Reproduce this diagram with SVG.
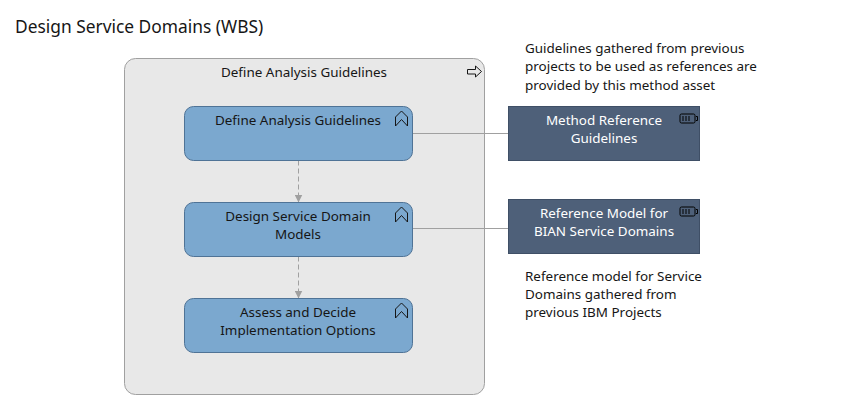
<svg xmlns="http://www.w3.org/2000/svg" width="855" height="405" viewBox="0 0 855 405">
<style>
text{font-family:"Noto Sans","Liberation Sans",sans-serif;font-size:13.45px;fill:#161616}
.m{text-anchor:middle}
.container{fill:#e8e8e8;stroke:#a0a0a0;stroke-width:1}
.proc{fill:#7ba8cf;stroke:#4f7396;stroke-width:1}
.asset{fill:#4e6079;stroke:#3f4f66;stroke-width:1}
.w{fill:#fff}
.ic{fill:none;stroke:#161616;stroke-width:1}
.lc{fill:none;stroke:#a0a0a0;stroke-width:1}
.dash{stroke-dasharray:5 3}
</style>
<defs>
<marker id="ah" markerUnits="userSpaceOnUse" markerWidth="9" markerHeight="8" refX="8" refY="4" orient="auto"><path d="M0 0L8 4L0 8Z" fill="#a0a0a0"/></marker>
<g id="chev"><path class="ic" d="M-6 -2L0 -8L6 -2V7L0 0.500L-6 7Z"/></g>
<g id="batt"><rect x="-8.500" y="-4.500" width="15" height="9" rx="1.500" fill="none" stroke="#000" stroke-width="1"/><path d="M-5.500 -2.500V2.500M-2.500 -2.500V2.500M0.500 -2.500V2.500" stroke="#000" stroke-width="1" fill="none"/><path d="M7.500 -2H9V2H7.500" stroke="#000" stroke-width="1" fill="none"/></g>
</defs>
<text x="15" y="33" style="font-size:17.36px">Design Service Domains (WBS)</text>
<g id="container"><rect class="container" x="124.500" y="58.500" width="360" height="336" rx="11"/>
<text class="m" x="304" y="77">Define Analysis Guidelines</text>
<path class="ic" d="M467.500 69.500H475.500V66L481.500 71.500L475.500 77V74H467.500Z"/></g>
<g id="connectors">
<path class="lc" d="M412.500 133.500H508.500M412.500 228.500H508.500"/>
<path class="lc dash" marker-end="url(#ah)" d="M298.500 160.500V202.500"/>
<path class="lc dash" marker-end="url(#ah)" d="M298.500 256.500V298.500"/>
</g>
<g id="p1"><rect class="proc" x="184.500" y="106.500" width="228" height="54" rx="9"/><text class="m" x="298" y="125">Define Analysis Guidelines</text><use href="#chev" x="401.500" y="119"/></g>
<g id="p2"><rect class="proc" x="184.500" y="202.500" width="228" height="54" rx="9"/><text class="m" x="298" y="221">Design Service Domain</text><text class="m" x="298" y="239">Models</text><use href="#chev" x="401.500" y="215"/></g>
<g id="p3"><rect class="proc" x="184.500" y="298.500" width="228" height="54" rx="9"/><text class="m" x="298" y="317">Assess and Decide</text><text class="m" x="298" y="335">Implementation Options</text><use href="#chev" x="401.500" y="311"/></g>
<g id="a1"><rect class="asset" x="508.500" y="106.500" width="191" height="54"/><text class="m w" x="604" y="125">Method Reference</text><text class="m w" x="604" y="143">Guidelines</text><use href="#batt" x="688.500" y="118.500"/></g>
<g id="a2"><rect class="asset" x="508.500" y="199.500" width="191" height="54"/><text class="m w" x="604" y="218">Reference Model for</text><text class="m w" x="604" y="236">BIAN Service Domains</text><use href="#batt" x="688.500" y="211.500"/></g>
<g id="note1"><text x="525" y="53">Guidelines gathered from previous</text><text x="525" y="71">projects to be used as references are</text><text x="525" y="90">provided by this method asset</text></g>
<g id="note2"><text x="525" y="281">Reference model for Service</text><text x="525" y="299">Domains gathered from</text><text x="525" y="317">previous IBM Projects</text></g>
</svg>
